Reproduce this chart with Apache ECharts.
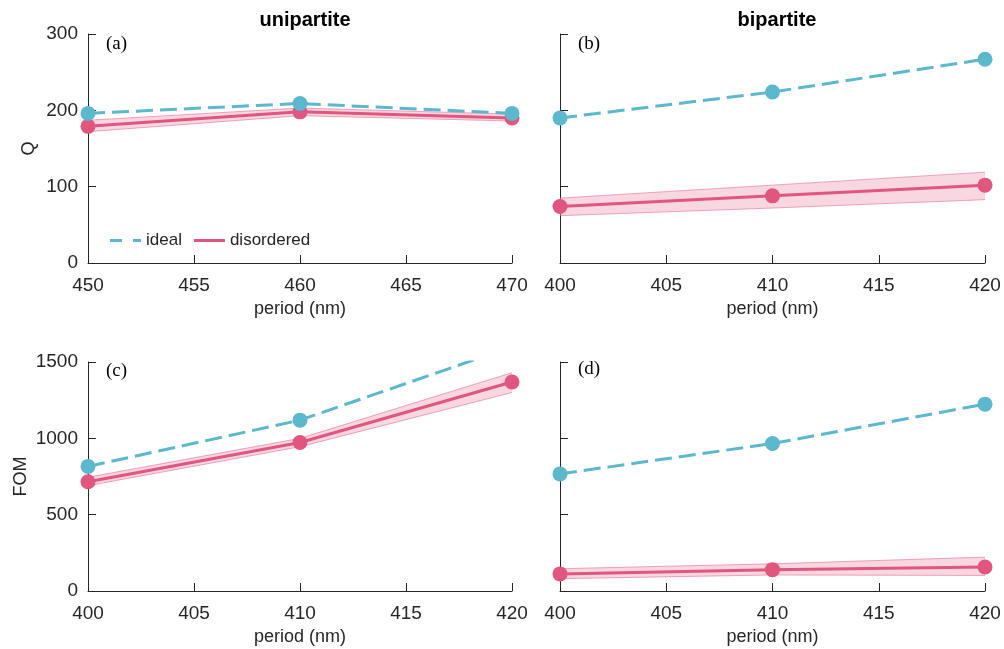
<!DOCTYPE html>
<html>
<head>
<meta charset="utf-8">
<title>Q and FOM vs period</title>
<script src="https://cdn.jsdelivr.net/npm/echarts@6/dist/echarts.min.js"></script>
<style>
    html, body { margin: 0; padding: 0; background: #fff; }
    #chart { width: 1004px; height: 649px; }
</style>
</head>
<body>
<div id="chart"></div>
<script>
// periods (nm)
var periodA = [450, 460, 470];
var periodBCD = [400, 410, 420];

// (a) unipartite Q
var qUniIdeal = [196, 209, 196];
var qUniDis = [179, 198, 190];
var qUniLow = [172, 193, 186];
var qUniHigh = [187, 203, 195];

// (b) bipartite Q
var qBiIdeal = [190, 224, 267];
var qBiDis = [74, 88, 102];
var qBiLow = [62, 72, 83];
var qBiHigh = [85, 102, 119];

// (c) unipartite FOM (last ideal point lies above the axis range)
var fomUniIdeal = [816, 1119, 1600];
var fomUniDis = [716, 973, 1369];
var fomUniLow = [690, 945, 1300];
var fomUniHigh = [745, 1000, 1430];

// (d) bipartite FOM
var fomBiIdeal = [767, 966, 1224];
var fomBiDis = [112, 140, 157];
var fomBiLow = [81, 105, 102];
var fomBiHigh = [146, 178, 222];

var xTicksA = [450, 470, 5];
var xTicksB = [400, 420, 5];
var qTicks = [0, 300, 100];
var fomTicks = [0, 1500, 500];

(function () {
    'use strict';

    var TEAL = '#5bb8cd';
    var PINK = '#e0567f';
    var BAND = 'rgba(236, 140, 170, 0.35)';
    var BAND_EDGE = 'rgba(228, 110, 150, 0.6)';
    var INK = '#262626';
    var SANS = '"Liberation Sans", Arial, Helvetica, sans-serif';
    var SERIF = '"Liberation Serif", "Times New Roman", serif';

    var grids = [
        { left: 88, top: 34, width: 424, height: 229 },
        { left: 560, top: 34, width: 425, height: 229 },
        { left: 88, top: 362, width: 424, height: 229 },
        { left: 560, top: 362, width: 425, height: 229 }
    ];

    function pairs(xs, ys) {
        return xs.map(function (x, i) { return [x, ys[i]]; });
    }

    function plainNumber(v) { return String(v); }

    function xAxis(idx, ticks) {
        return {
            type: 'value', gridIndex: idx,
            min: ticks[0], max: ticks[1], interval: ticks[2],
            name: 'period (nm)', nameLocation: 'middle', nameGap: 37,
            nameTextStyle: { fontFamily: SANS, fontSize: 18, color: INK },
            axisLine: { show: true, onZero: false, lineStyle: { color: INK, width: 1 } },
            axisTick: { show: true, inside: true, length: 8, lineStyle: { color: INK } },
            axisLabel: { margin: 13, fontFamily: SANS, fontSize: 19, color: INK, formatter: plainNumber },
            splitLine: { show: false }
        };
    }

    function yAxis(idx, ticks, name, gap, showLabels) {
        return {
            type: 'value', gridIndex: idx,
            min: ticks[0], max: ticks[1], interval: ticks[2],
            name: name, nameLocation: 'middle', nameGap: gap,
            nameTextStyle: { fontFamily: SANS, fontSize: 18, color: INK },
            axisLine: { show: true, onZero: false, lineStyle: { color: INK, width: 1 } },
            axisTick: { show: true, inside: true, length: 8, lineStyle: { color: INK } },
            axisLabel: { show: showLabels, margin: 10, fontFamily: SANS, fontSize: 19, color: INK, formatter: plainNumber },
            splitLine: { show: false }
        };
    }

    // shaded spread between low and high, drawn as one polygon through the axes
    function bandSeries(idx, xs, low, high) {
        return {
            name: 'band-' + idx, type: 'custom', xAxisIndex: idx, yAxisIndex: idx,
            silent: true, z: 1,
            data: xs.map(function (x, i) { return [x, low[i], high[i]]; }),
            renderItem: function (params, api) {
                if (params.dataIndex !== 0) return null;
                var top = xs.map(function (x, i) { return api.coord([x, high[i]]); });
                var bottom = xs.map(function (x, i) { return api.coord([x, low[i]]); });
                var poly = top.concat(bottom.slice().reverse());
                return {
                    type: 'group',
                    children: [
                        { type: 'polygon', shape: { points: poly }, style: { fill: BAND, stroke: null } },
                        { type: 'polyline', shape: { points: top }, style: { fill: null, stroke: BAND_EDGE, lineWidth: 1 } },
                        { type: 'polyline', shape: { points: bottom }, style: { fill: null, stroke: BAND_EDGE, lineWidth: 1 } }
                    ]
                };
            }
        };
    }

    function panelSeries(idx, xs, ideal, dis, low, high) {
        return [
            bandSeries(idx, xs, low, high),
            {
                name: 'disordered', type: 'line', xAxisIndex: idx, yAxisIndex: idx, z: 2,
                data: pairs(xs, dis), symbol: 'circle', symbolSize: 15,
                itemStyle: { color: PINK },
                lineStyle: { color: PINK, width: 3 }
            },
            {
                name: 'ideal', type: 'line', xAxisIndex: idx, yAxisIndex: idx, z: 3,
                data: pairs(xs, ideal), symbol: 'circle', symbolSize: 15, clip: true,
                itemStyle: { color: TEAL },
                lineStyle: { color: TEAL, width: 3, type: [17, 7] }
            }
        ];
    }

    function label(text, left, top) {
        return {
            text: text, left: left, top: top,
            textStyle: { fontFamily: SERIF, fontSize: 19, fontWeight: 'normal', color: '#000' }
        };
    }

    var chart = echarts.init(document.getElementById('chart'), null, { renderer: 'canvas' });

    var series = []
        .concat(panelSeries(0, periodA, qUniIdeal, qUniDis, qUniLow, qUniHigh))
        .concat(panelSeries(1, periodBCD, qBiIdeal, qBiDis, qBiLow, qBiHigh))
        .concat(panelSeries(2, periodBCD, fomUniIdeal, fomUniDis, fomUniLow, fomUniHigh))
        .concat(panelSeries(3, periodBCD, fomBiIdeal, fomBiDis, fomBiLow, fomBiHigh));

    chart.setOption({
        animation: false,
        backgroundColor: '#fff',
        title: [
            { text: 'unipartite', left: 300, top: 5, textAlign: 'center',
              textStyle: { fontFamily: SANS, fontSize: 20, fontWeight: 'bold', color: '#000' } },
            { text: 'bipartite', left: 772, top: 5, textAlign: 'center',
              textStyle: { fontFamily: SANS, fontSize: 20, fontWeight: 'bold', color: '#000' } },
            label('(a)', 101, 30),
            label('(b)', 573, 30),
            label('(c)', 101, 357),
            label('(d)', 573, 355)
        ],
        legend: {
            left: 105, top: 227,
            itemWidth: 31, itemHeight: 3, itemGap: 12,
            textStyle: { fontFamily: SANS, fontSize: 17, color: INK },
            itemStyle: { borderWidth: 0 },
            data: [
                { name: 'ideal', icon: 'path://M0,0H12V3H0Z M23,0H31V3H23Z' },
                { name: 'disordered', icon: 'path://M0,0H31V3H0Z' }
            ]
        },
        grid: grids,
        xAxis: [xAxis(0, xTicksA), xAxis(1, xTicksB), xAxis(2, xTicksB), xAxis(3, xTicksB)],
        yAxis: [
            yAxis(0, qTicks, 'Q', 50, true),
            yAxis(1, qTicks, '', 50, false),
            yAxis(2, fomTicks, 'FOM', 58, true),
            yAxis(3, fomTicks, '', 50, false)
        ],
        series: series
    });

    window.addEventListener('resize', function () { chart.resize(); });
})();
</script>
</body>
</html>
